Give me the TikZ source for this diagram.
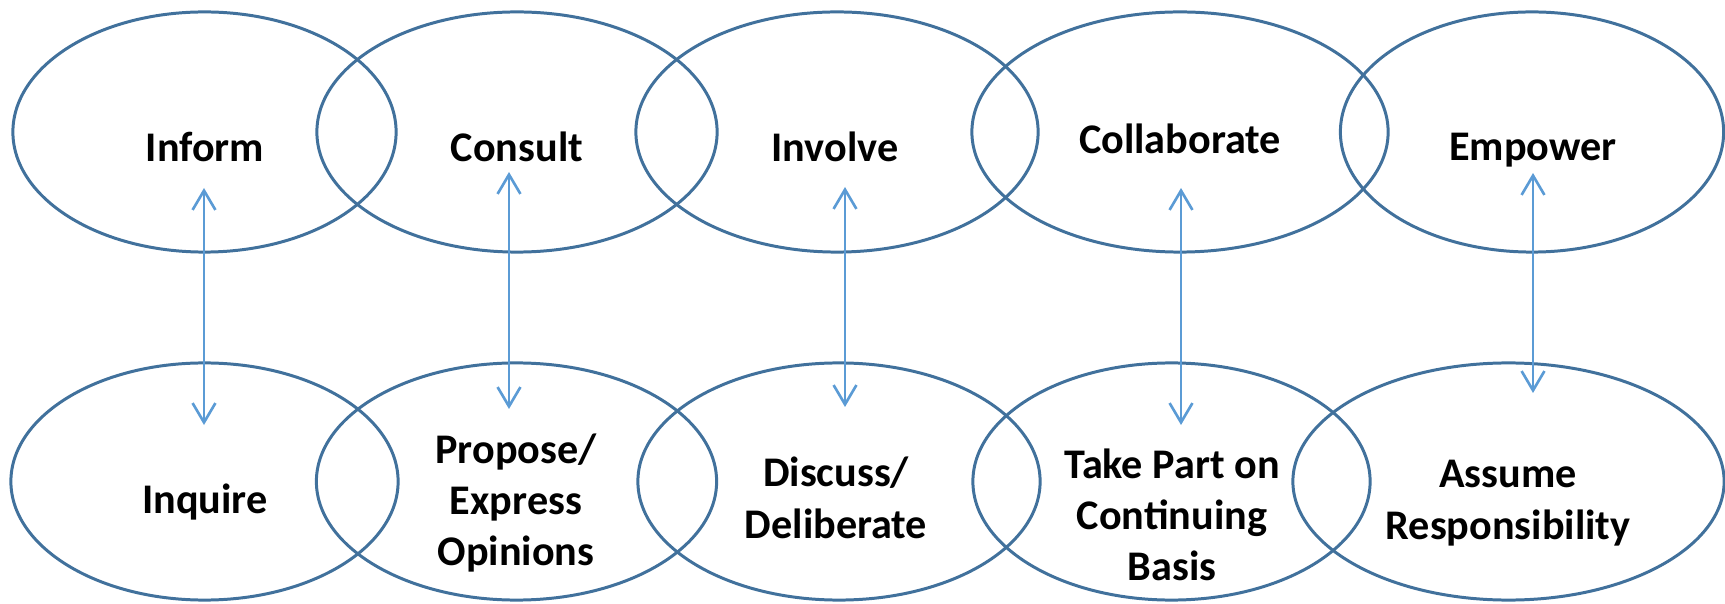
\documentclass[tikz,border=0pt]{standalone}
\usepackage{fontspec}
\setmainfont{Carlito}
\usetikzlibrary{shapes.geometric,arrows.meta}

\definecolor{ringblue}{RGB}{65,113,156}
\definecolor{linkblue}{RGB}{91,155,213}

\tikzset{
	ring/.style={draw=ringblue, line width=0.85pt, ellipse, inner sep=0pt},
	toprow/.style={ring, minimum height=2.4cm},
	botrow/.style={ring, minimum height=2.37cm},
	stage/.style={font=\fontsize{12}{14.6}\selectfont\bfseries, align=center, inner sep=0pt},
	link/.style={draw=linkblue, line width=0.75pt,
		{Straight Barb[length=5.5pt,width=6.5pt]}-{Straight Barb[length=5.5pt,width=6.5pt]}}
}

\begin{document}
\begin{tikzpicture}[x=0.01cm, y=0.01cm]

		\useasboundingbox (0,0) rectangle (1725,603);

		% top row of ellipses
		\node[toprow, minimum width=3.83cm] (inform) at (204.5,471) {};
		\node[toprow, minimum width=4.00cm] (consult) at (517,471) {};
		\node[toprow, minimum width=4.02cm] (involve) at (837,471) {};
		\node[toprow, minimum width=4.16cm] (collaborate) at (1180,471) {};
		\node[toprow, minimum width=3.83cm] (empower) at (1532,471) {};

		% bottom row of ellipses
		\node[botrow, minimum width=3.87cm] (inquire) at (204.5,121.5) {};
		\node[botrow, minimum width=4.00cm] (propose) at (516.5,121.5) {};
		\node[botrow, minimum width=4.02cm] (discuss) at (839,121.5) {};
		\node[botrow, minimum width=3.97cm] (takepart) at (1171.5,121.5) {};
		\node[botrow, minimum width=4.31cm] (assume) at (1508.5,121.5) {};

		% labels
		\node[stage, anchor=base] (tinform) at (205,441) {Inform};
		\node[stage, anchor=base] (tconsult) at (517,441) {Consult};
		\node[stage, anchor=base] (tinvolve) at (835,441) {Involve};
		\node[stage, anchor=base] (tcollaborate) at (1180,449) {Collaborate};
		\node[stage, anchor=base] (tempower) at (1533,442) {Empower};

		\node[stage, anchor=base] (tinquire) at (205,90) {Inquire};
		\node[stage] (tpropose) at (516,100) {Propose/\\Express\\Opinions};
		\node[stage] (tdiscuss) at (836,105) {Discuss/\\Deliberate};
		\node[stage] (ttakepart) at (1172,88) {Take Part on\\Continuing\\Basis};
		\node[stage] (tassume) at (1508,100) {Assume\\Responsibility};

		% draw links between rows
		\foreach \up/\down/\xpos/\ytop/\ybot in {inform/inquire/204/415/178, consult/propose/509/431/194, involve/discuss/845/416/196, collaborate/takepart/1181/415/178, empower/assume/1533/430/210}
		{
			\coordinate (\up-end) at (\xpos,\ytop);
			\coordinate (\down-end) at (\xpos,\ybot);
			\draw[link] (\up-end) -- (\down-end); % double arrow
		}

\end{tikzpicture}
\end{document}
